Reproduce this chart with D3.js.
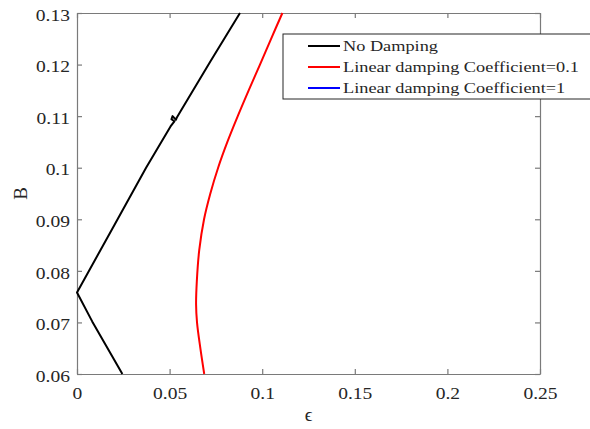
<!DOCTYPE html>
<html>
<head>
<meta charset="utf-8">
<script src="https://cdn.jsdelivr.net/npm/d3@7"></script>
<style>
    body { margin: 0; background: #fff; }
    text { font-family: "Liberation Serif", "Times New Roman", serif; fill: #262626; }
    .wide { transform-box: fill-box; transform: scaleX(1.22); }
</style>
</head>
<body>
<div id="chart"></div>
<script>
const width = 590;
const height = 429;
const margin = { top: 13, right: 50, bottom: 55, left: 77 };

// axis ticks
const xTicks = [0, 0.05, 0.1, 0.15, 0.2, 0.25];
const yTicks = [0.06, 0.07, 0.08, 0.09, 0.1, 0.11, 0.12, 0.13];

// series (epsilon, B)
const seriesNames = ['No Damping', 'Linear damping Coefficient=0.1', 'Linear damping Coefficient=1'];
const seriesColors = ['#000000', '#ff0000', '#0000ff'];

const noDampEps = [0.0245, 0.0082, 0, 0.0205, 0.0373,
    0.0505, 0.0526, 0.0510, 0.0516, 0.0534, 0.0540, 0.0560, 0.0720, 0.0880];
const noDampB = [0.0600, 0.0702, 0.0758, 0.0891, 0.1000,
    0.1080, 0.1090, 0.1094, 0.1100, 0.1093, 0.1098, 0.1110, 0.1206, 0.1300];

const damp01Eps = [0.0687, 0.0666, 0.0648, 0.0643, 0.0647, 0.0660, 0.0686, 0.0720, 0.0762,
    0.0812, 0.0868, 0.0927, 0.0988, 0.1048, 0.1109];
const damp01B = [0.0600, 0.0650, 0.0700, 0.0735, 0.0780, 0.0840, 0.0900, 0.0950, 0.1000,
    0.1050, 0.1100, 0.1150, 0.1200, 0.1250, 0.1300];

// coefficient 1 has no points inside the shown window
const damp1Eps = [];
const damp1B = [];

const svg = d3.select('#chart').append('svg')
    .attr('width', width)
    .attr('height', height);

const x = d3.scaleLinear().domain([0, 0.25]).range([margin.left, width - margin.right]);
const y = d3.scaleLinear().domain([0.06, 0.13]).range([height - margin.bottom, margin.top]);

const axisColor = '#7a7a7a';
const fmt = d3.format('~g');

// frame with inward ticks on all four sides
const gx = svg.append('g').attr('transform', `translate(0,${y(0.06)})`)
    .call(d3.axisBottom(x).tickValues(xTicks).tickFormat(fmt).tickSizeInner(-5).tickSizeOuter(0));
const gxTop = svg.append('g').attr('transform', `translate(0,${y(0.13)})`)
    .call(d3.axisTop(x).tickValues(xTicks).tickFormat('').tickSizeInner(-5).tickSizeOuter(0));
const gy = svg.append('g').attr('transform', `translate(${x(0)},0)`)
    .call(d3.axisLeft(y).tickValues(yTicks).tickFormat(fmt).tickSizeInner(-5).tickSizeOuter(0));
const gyRight = svg.append('g').attr('transform', `translate(${x(0.25)},0)`)
    .call(d3.axisRight(y).tickValues(yTicks).tickFormat('').tickSizeInner(-5).tickSizeOuter(0));

[gx, gxTop, gy, gyRight].forEach(g => {
    g.selectAll('path, line').attr('stroke', axisColor).attr('stroke-width', 1.2);
});

gx.selectAll('text')
    .attr('y', 14)
    .attr('font-size', 16)
    .attr('class', 'wide')
    .style('transform-origin', 'center')
    .attr('fill', '#262626');
gy.selectAll('text')
    .attr('x', -7)
    .attr('dy', '0.45em')
    .attr('font-size', 16)
    .attr('class', 'wide')
    .style('transform-origin', 'right center')
    .attr('fill', '#262626');

// axis labels
svg.append('text')
    .attr('x', (x(0) + x(0.25)) / 2)
    .attr('y', 421)
    .attr('text-anchor', 'middle')
    .attr('font-size', 19)
    .text('ϵ');
// the css scale would override a transform attribute, so rotate a wrapper group
svg.append('g')
    .attr('transform', `translate(27,${(y(0.06) + y(0.13)) / 2}) rotate(-90)`)
    .append('text')
    .attr('text-anchor', 'middle')
    .attr('font-size', 19)
    .text('B');

// curves
const series = [
    d3.zip(noDampEps, noDampB),
    d3.zip(damp01Eps, damp01B),
    d3.zip(damp1Eps, damp1B)
];

const plot = svg.append('g');
plot.selectAll('path.line')
    .data(series)
    .join('path')
    .attr('class', 'line')
    .attr('fill', 'none')
    .attr('stroke', (d, i) => seriesColors[i])
    .attr('stroke-width', 2)
    .attr('stroke-linejoin', 'round')
    .attr('d', (d, i) => d3.line()
        .x(p => x(p[0]))
        .y(p => y(p[1]))
        .curve(i === 1 ? d3.curveCatmullRom : d3.curveLinear)(d));

// legend box runs off the right edge, like the source
const legend = svg.append('g').attr('transform', 'translate(283,34)');
legend.append('rect')
    .attr('width', 330)
    .attr('height', 65)
    .attr('fill', '#fff')
    .attr('stroke', '#262626')
    .attr('stroke-width', 1);

const rows = legend.selectAll('g.row')
    .data(seriesNames)
    .join('g')
    .attr('class', 'row')
    .attr('transform', (d, i) => `translate(0,${12 + i * 21})`);
rows.append('line')
    .attr('x1', 25).attr('x2', 57)
    .attr('stroke', (d, i) => seriesColors[i])
    .attr('stroke-width', 2);
rows.append('text')
    .attr('x', 60)
    .attr('dy', '0.36em')
    .attr('font-size', 15)
    .attr('class', 'wide')
    .style('transform-origin', 'left center')
    .text(d => d);
</script>
</body>
</html>
